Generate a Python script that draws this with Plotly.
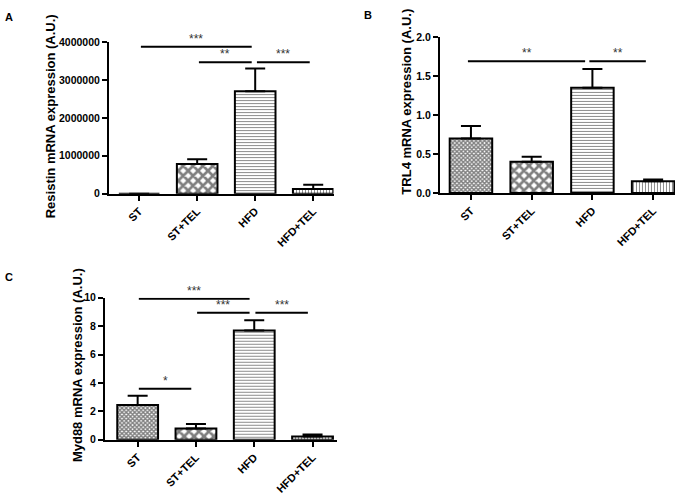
import plotly.graph_objects as go

categories = ["ST", "ST+TEL", "HFD", "HFD+TEL"]

resistin_mean = [0, 780000, 2700000, 125000]
resistin_sem = [0, 130000, 600000, 110000]

trl4_mean = [0.70, 0.40, 1.35, 0.15]
trl4_sem = [0.16, 0.065, 0.24, 0.025]

myd88_mean = [2.45, 0.80, 7.70, 0.23]
myd88_sem = [0.65, 0.32, 0.72, 0.14]

# significance comparisons: (group a, group b, bracket height, label)
resistin_sig = [(0, 2, 3880000, "***"), (1, 2, 3470000, "**"), (2, 3, 3470000, "***")]
trl4_sig = [(0, 2, 1.69, "**"), (2, 3, 1.69, "**")]
myd88_sig = [(0, 2, 9.94, "***"), (1, 2, 8.94, "***"), (2, 3, 8.94, "***"), (0, 1, 3.6, "*")]

titles = ["Resistin mRNA expression (A.U.)", "TRL4 mRNA expression (A.U.)",
          "Myd88 mRNA expression (A.U.)"]

FONT = "Liberation Sans, Arial, sans-serif"

pattern_shapes = ["x", "x", "-", "|"]
pattern_sizes = [3, 7, 3, 3]
pattern_solid = [0.7, 0.62, 0.3, 0.3]

fig = go.Figure()

panels = [
    ("x", "y", resistin_mean, resistin_sem),
    ("x2", "y2", trl4_mean, trl4_sem),
    ("x3", "y3", myd88_mean, myd88_sem),
]

for xa, ya, means, sems in panels:
    fig.add_trace(go.Bar(
        x=categories, y=means, xaxis=xa, yaxis=ya, width=0.70,
        marker=dict(color="white", line=dict(color="black", width=2),
                    pattern=dict(shape=pattern_shapes, size=pattern_sizes,
                                 solidity=pattern_solid, fgcolor="black",
                                 bgcolor="white", fillmode="overlay")),
        error_y=dict(type="data", symmetric=False, array=sems,
                     arrayminus=[0] * len(sems), color="black",
                     thickness=2, width=10),
        showlegend=False, hoverinfo="skip",
    ))

def add_sig(xa, ya, sig, left_off, right_off):
    for a, b, h, label in sig:
        x0 = a + left_off
        x1 = b - right_off
        fig.add_shape(type="line", xref=xa, yref=ya, x0=x0, x1=x1, y0=h, y1=h,
                      line=dict(color="black", width=2))
        fig.add_annotation(xref=xa, yref=ya, x=(x0 + x1) / 2, y=h, text=label,
                           showarrow=False, yshift=8,
                           font=dict(family=FONT, size=12, color="#333333"))

add_sig("x", "y", resistin_sig, 0.03, 0.06)
add_sig("x2", "y2", trl4_sig, -0.05, 0.12)
add_sig("x3", "y3", myd88_sig, 0.02, 0.08)

xcommon = dict(showline=True, linecolor="black", linewidth=2, ticks="outside",
               ticklen=5, tickwidth=2, tickcolor="black", tickangle=-45,
               showgrid=False, zeroline=False,
               tickfont=dict(family=FONT, size=11, color="black", weight="bold"))
ycommon = dict(showline=True, linecolor="black", linewidth=2, ticks="outside",
               ticklen=5, tickwidth=2, tickcolor="black", showgrid=False,
               zeroline=False,
               tickfont=dict(family=FONT, size=10.5, color="black", weight="bold"))

fig.update_layout(
    width=685, height=497, margin=dict(l=0, r=0, t=0, b=0),
    plot_bgcolor="white", paper_bgcolor="white",
    xaxis=dict(domain=[0.1591, 0.4869], range=[-0.52, 3.35], anchor="y", **xcommon),
    yaxis=dict(domain=[0.6131, 0.9256], range=[0, 4000000], anchor="x",
               tickvals=[0, 1000000, 2000000, 3000000, 4000000],
               ticktext=["0", "1000000", "2000000", "3000000", "4000000"], **ycommon),
    xaxis2=dict(domain=[0.6423, 0.9854], range=[-0.51, 3.36], anchor="y2", **xcommon),
    yaxis2=dict(domain=[0.6143, 0.9362], range=[0, 2.0], anchor="x2",
                tickvals=[0, 0.5, 1.0, 1.5, 2.0], tickformat=".1f", **ycommon),
    xaxis3=dict(domain=[0.1533, 0.4920], range=[-0.56, 3.42], anchor="y3", **xcommon),
    yaxis3=dict(domain=[0.1056, 0.3984], range=[0, 10], anchor="x3",
                tickvals=[0, 2, 4, 6, 8, 10], **ycommon),
)

# y-axis titles placed as rotated paper annotations
for txt, cx, cy in zip(titles, [50, 407, 77], [113, 98, 368]):
    fig.add_annotation(xref="paper", yref="paper", x=cx / 685, y=1 - cy / 497,
                       xanchor="center", yanchor="middle", textangle=-90,
                       text=txt, showarrow=False,
                       font=dict(family=FONT, size=13, color="black", weight="bold"))

for txt, x, y in [("A", 3, 3), ("B", 362, 1), ("C", 3, 270)]:
    fig.add_annotation(xref="paper", yref="paper", x=x / 685, y=1 - y / 497,
                       xanchor="left", yanchor="top", text=txt, showarrow=False,
                       font=dict(family=FONT, size=11, color="black", weight="bold"))

fig.write_html("out.html", config={"displayModeBar": False})

# remove default page margin so the figure fills the window exactly
with open("out.html", "r", encoding="utf-8") as f:
    html = f.read()
html = html.replace("<head>", "<head><style>html,body{margin:0;padding:0;overflow:hidden;}</style>", 1)
with open("out.html", "w", encoding="utf-8") as f:
    f.write(html)
